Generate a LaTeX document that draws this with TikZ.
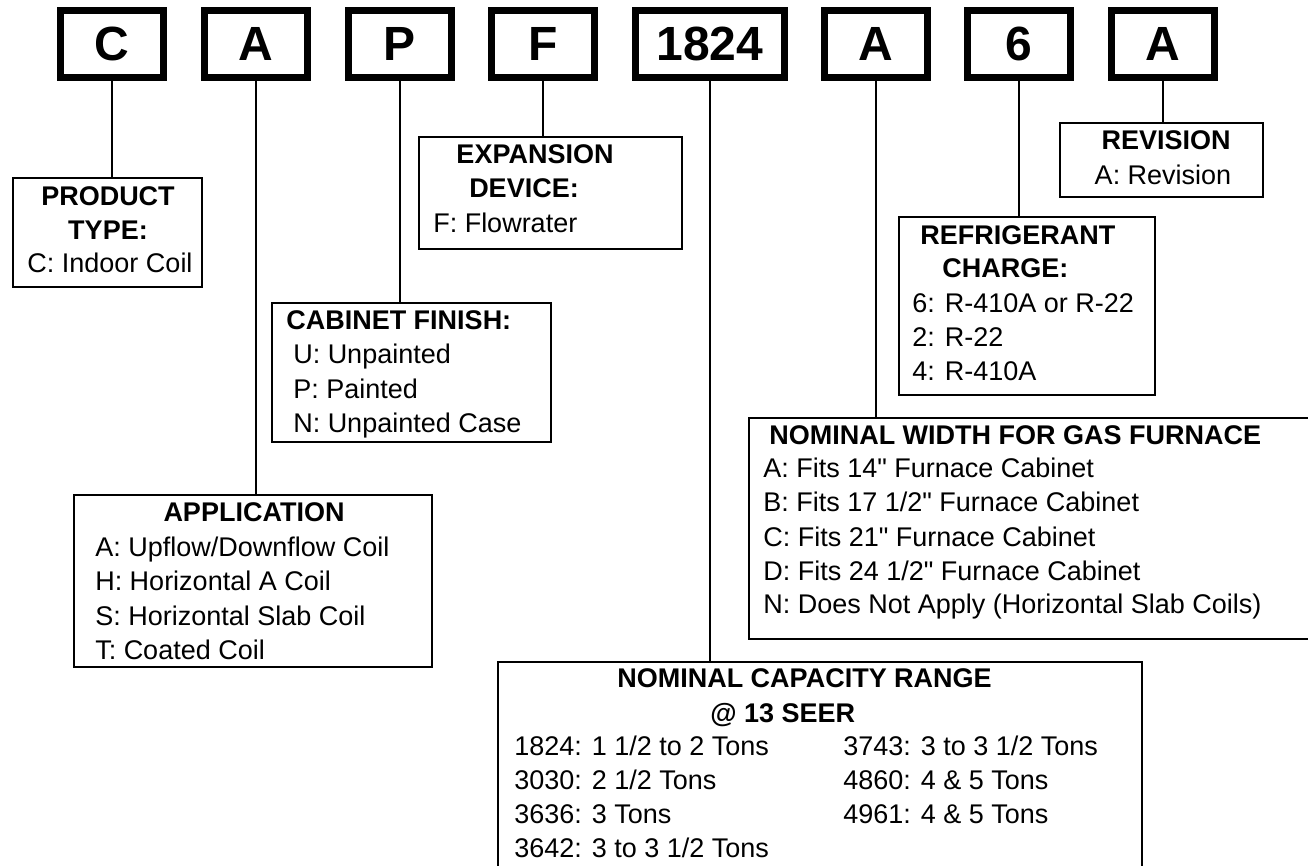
\documentclass[tikz,border=0pt]{standalone}
\usepackage{fontspec}
\setmainfont{Liberation Sans}
\newfontfamily\qfont{Liberation Sans}
\newcommand{\inch}{{\qfont"}}
\usetikzlibrary{fit}
\begin{document}
\begin{tikzpicture}[x=0.75pt,y=-0.75pt,
  codebox/.style={draw, line width=5.6pt, inner sep=0pt, minimum width=76.9pt, minimum height=49.9pt, font=\fontsize{36}{40}\selectfont\bfseries},
  infobox/.style={draw, line width=1.5pt, inner sep=0pt},
  conn/.style={line width=1.5pt},
  hd/.style={inner sep=0pt, font=\fontsize{20.25}{24}\selectfont\bfseries},
  it/.style={inner sep=0pt, font=\fontsize{20.25}{24}\selectfont},
]
\clip (0,0) rectangle (1308,866);
\fill[white] (0,0) rectangle (1308,866);

% code boxes
\node[codebox] (c1) at (112,44) {C};
\node[codebox] (c2) at (256,44) {A};
\node[codebox] (c3) at (400,44) {P};
\node[codebox] (c4) at (543,44) {F};
\node[codebox, minimum width=111.4pt] (c5) at (710,44) {1824};
\node[codebox] (c6) at (876,44) {A};
\node[codebox] (c7) at (1019,44) {6};
\node[codebox] (c8) at (1163,44) {A};

% info boxes
\node[infobox, fit={(13,178) (202,287)}] (ptype) {};
\node[infobox, fit={(74,495) (432,667)}] (app) {};
\node[infobox, fit={(272,303) (551,442)}] (cab) {};
\node[infobox, fit={(419,137) (682,249)}] (exp) {};
\node[infobox, fit={(498,662) (1142,900)}] (cap) {};
\node[infobox, fit={(749,418) (1340,639)}] (wid) {};
\node[infobox, fit={(899,217) (1155,395)}] (ref) {};
\node[infobox, fit={(1060,123) (1263,197)}] (rev) {};

% connectors
\draw[conn] (c1.south) -- (c1.south |- ptype.north);
\draw[conn] (c2.south) -- (c2.south |- app.north);
\draw[conn] (c3.south) -- (c3.south |- cab.north);
\draw[conn] (c4.south) -- (c4.south |- exp.north);
\draw[conn] (c5.south) -- (c5.south |- cap.north);
\draw[conn] (c6.south) -- (c6.south |- wid.north);
\draw[conn] (c7.south) -- (c7.south |- ref.north);
\draw[conn] (c8.south) -- (c8.south |- rev.north);

% product type
\node[hd, anchor=base] (pt1) at (108,205) {PRODUCT};
\node[hd, anchor=base] (pt2) at (108,239) {TYPE:};
\node[it, anchor=base] (pt3) at (110,272) {C: Indoor Coil};

% expansion device
\node[hd, anchor=base] (ex1) at (535,164) {EXPANSION};
\node[hd, anchor=base] (ex2) at (524,198) {DEVICE:};
\node[it, anchor=base west] (ex3) at (433,233) {F: Flowrater};

% cabinet finish
\node[hd, anchor=base west] (cb1) at (286,329) {CABINET FINISH:};
\node[it, anchor=base west] (cb2) at (293,363) {U: Unpainted};
\node[it, anchor=base west] (cb3) at (293,398) {P: Painted};
\node[it, anchor=base west] (cb4) at (293,432) {N: Unpainted Case};

% application
\node[hd, anchor=base] (ap1) at (254,521) {APPLICATION};
\node[it, anchor=base west] (ap2) at (95,556) {A: Upflow/Downflow Coil};
\node[it, anchor=base west] (ap3) at (95,590) {H: Horizontal A Coil};
\node[it, anchor=base west] (ap4) at (95,625) {S: Horizontal Slab Coil};
\node[it, anchor=base west] (ap5) at (95,659) {T: Coated Coil};

% revision
\node[hd, anchor=base] (rv1) at (1166,150) {REVISION};
\node[it, anchor=base] (rv2) at (1163,185) {A: Revision};

% refrigerant charge
\node[hd, anchor=base west] (rf1) at (920,244) {REFRIGERANT};
\node[hd, anchor=base west] (rf2) at (942,277) {CHARGE:};
\node[it, anchor=base west] (rf3) at (912,312) {6: R-410A or R-22};
\node[it, anchor=base west] (rf4) at (912,346) {2: R-22};
\node[it, anchor=base west] (rf5) at (912,380) {4: R-410A};

% nominal width
\node[hd, anchor=base west] (nw1) at (769,444) {NOMINAL WIDTH FOR GAS FURNACE};
\node[it, anchor=base west] (nw2) at (763,477) {A: Fits 14\inch{} Furnace Cabinet};
\node[it, anchor=base west] (nw3) at (763,511) {B: Fits 17 1/2\inch{} Furnace Cabinet};
\node[it, anchor=base west] (nw4) at (763,546) {C: Fits 21\inch{} Furnace Cabinet};
\node[it, anchor=base west] (nw5) at (763,580) {D: Fits 24 1/2\inch{} Furnace Cabinet};
\node[it, anchor=base west] (nw6) at (763,613) {N: Does Not Apply (Horizontal Slab Coils)};

% nominal capacity
\node[hd, anchor=base west] (nc1) at (617,687) {NOMINAL CAPACITY RANGE};
\node[hd, anchor=base west] (nc2) at (710,722) {@ 13 SEER};
\node[it, anchor=base west] (nc3) at (514,755) {1824: 1 1/2 to 2 Tons};
\node[it, anchor=base west] (nc4) at (514,789) {3030: 2 1/2 Tons};
\node[it, anchor=base west] (nc5) at (514,823) {3636: 3 Tons};
\node[it, anchor=base west] (nc6) at (514,857) {3642: 3 to 3 1/2 Tons};
\node[it, anchor=base west] (nc7) at (843,755) {3743: 3 to 3 1/2 Tons};
\node[it, anchor=base west] (nc8) at (843,789) {4860: 4 \& 5 Tons};
\node[it, anchor=base west] (nc9) at (843,823) {4961: 4 \& 5 Tons};
\end{tikzpicture}
\end{document}
